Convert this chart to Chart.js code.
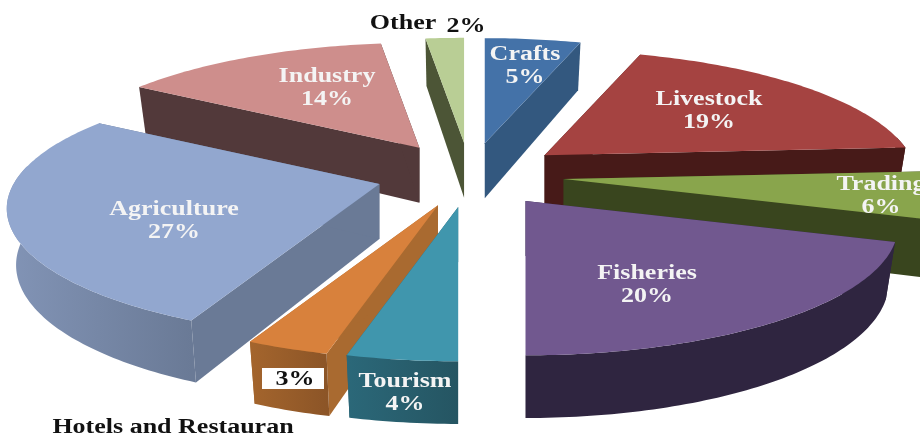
<!DOCTYPE html>
<html>
<head>
<meta charset="utf-8">
<title>Employment by sector</title>
<script src="https://cdn.jsdelivr.net/npm/chart.js@4"></script>
<style>
  html, body { margin: 0; padding: 0; background: #fff; overflow: hidden; }
  canvas { display: block; }
</style>
</head>
<body>
<canvas id="pizza_setores" width="920" height="433"></canvas>
<script>
const categorias = ['Crafts', 'Livestock', 'Trading', 'Fisheries', 'Tourism',
  'Hotels and Restauran', 'Agriculture', 'Industry', 'Other'];
const valores = [5, 19, 6, 20, 4, 3, 27, 14, 2];

const cor_topo = ['#4472a8', '#a54341', '#89a54c', '#71588f', '#4096ad',
  '#d8813c', '#92a7cf', '#ce8e8c', '#b9ce95'];
const cor_corte = ['#33587f', '#471a18', '#39451e', '#2f2540', '#2a6474',
  '#a96a30', '#6a7a96', '#52393a', '#4c5536'];
// outer rim runs from the first colour to the second, left to right
const cor_borda = [
  ['#33587f', '#33587f'], ['#471a18', '#471a18'], ['#39451e', '#39451e'],
  ['#2f2540', '#2f2540'], ['#2b6879', '#255562'], ['#a4652d', '#8c5527'],
  ['#8294b6', '#6a7a96'], ['#52393a', '#52393a'], ['#4c5536', '#4c5536']
];

// where each label sits, centre x and centre y of the first line
const pos_rotulos = [
  [525, 55], [709, 100], [881, 185], [647, 274], [405, 382],
  null, [174, 210], [327, 77], null
];

// tilt of the pie
const ESTICA_X = 2.36;
const ACHATA_Y = 0.806;
const PERSPECTIVA = 0.19;
const ALTURA = 55;
const ENCOLHE_BASE = 0.975;
const ESTICA_TEXTO = 1.3;

function escreve(ctx, texto, x, y, cor, tam) {
  ctx.save();
  ctx.translate(x, y);
  ctx.scale(ESTICA_TEXTO, 1);
  ctx.font = 'bold ' + (tam || 20) + 'px "Liberation Serif"';
  ctx.fillStyle = cor;
  ctx.textAlign = 'center';
  ctx.textBaseline = 'middle';
  ctx.fillText(texto, 0, 0);
  ctx.restore();
}

function caminho(ctx, pontos) {
  ctx.beginPath();
  pontos.forEach(function (p, i) {
    if (i === 0) ctx.moveTo(p[0], p[1]); else ctx.lineTo(p[0], p[1]);
  });
  ctx.closePath();
}

function geometria(arc) {
  const R = arc.outerRadius;
  const rx = R * ESTICA_X;
  const ry = R * ACHATA_Y;
  const meio = (arc.startAngle + arc.endAngle) / 2;
  const ox = arc.x + Math.cos(meio) * arc.options.offset * ESTICA_X;
  const oy = arc.y + Math.sin(meio) * arc.options.offset * ACHATA_Y;
  const aro = function (ang, baixo) {
    const u = Math.cos(ang);
    const v = Math.sin(ang);
    const f = 1 / (1 - PERSPECTIVA * v);
    const desce = baixo ? ALTURA * (1 + 0.14 * v) : 0;
    const encolhe = baixo ? ENCOLHE_BASE : 1;
    return [ox + rx * u * f * encolhe, oy + ry * v * f + desce];
  };
  return { ox: ox, oy: oy, aro: aro };
}

const pizza3d = {
  id: 'pizza3d',
  beforeDatasetDraw(chart, args) {
    const ctx = chart.ctx;
    const arcos = chart.getDatasetMeta(args.index).data;

    // far slices first, so the near ones cover them
    const ordem = arcos.map(function (a, i) { return i; }).sort(function (a, b) {
      const ma = (arcos[a].startAngle + arcos[a].endAngle) / 2;
      const mb = (arcos[b].startAngle + arcos[b].endAngle) / 2;
      return Math.sin(ma) - Math.sin(mb);
    });

    ordem.forEach(function (i) {
      const arc = arcos[i];
      const g = geometria(arc);
      const passos = Math.max(2, Math.ceil((arc.endAngle - arc.startAngle) * 60));
      const angulos = [];
      for (let k = 0; k <= passos; k++) {
        angulos.push(arc.startAngle + (arc.endAngle - arc.startAngle) * k / passos);
      }

      // the two cut faces
      [arc.startAngle, arc.endAngle].forEach(function (ang) {
        const p = g.aro(ang, false);
        const q = g.aro(ang, true);
        caminho(ctx, [[g.ox, g.oy], p, q, [g.ox, g.oy + ALTURA]]);
        ctx.fillStyle = cor_corte[i];
        ctx.fill();
      });

      // outer rim, only the part turned to the viewer
      const frente = angulos.filter(function (a) { return Math.sin(a) > -0.15; });
      if (frente.length > 1) {
        const cima = frente.map(function (a) { return g.aro(a, false); });
        const baixo = frente.map(function (a) { return g.aro(a, true); }).reverse();
        const xs = cima.map(function (p) { return p[0]; });
        const grad = ctx.createLinearGradient(Math.min.apply(null, xs), 0, Math.max.apply(null, xs), 0);
        grad.addColorStop(0, cor_borda[i][0]);
        grad.addColorStop(1, cor_borda[i][1]);
        caminho(ctx, cima.concat(baixo));
        ctx.fillStyle = grad;
        ctx.fill();
      }

      // top face
      caminho(ctx, [[g.ox, g.oy]].concat(angulos.map(function (a) { return g.aro(a, false); })));
      ctx.fillStyle = cor_topo[i];
      ctx.fill();
    });
    return false;
  },
  afterDatasetsDraw(chart) {
    const ctx = chart.ctx;
    valores.forEach(function (v, i) {
      if (!pos_rotulos[i]) return;
      escreve(ctx, categorias[i], pos_rotulos[i][0], pos_rotulos[i][1], '#f4f4f4');
      escreve(ctx, v + '%', pos_rotulos[i][0], pos_rotulos[i][1] + 23, '#f4f4f4');
    });

    // labels that sit outside their slices
    escreve(ctx, categorias[8], 403, 24, '#111');
    escreve(ctx, valores[8] + '%', 466, 27, '#111');
    ctx.fillStyle = '#fff';
    ctx.fillRect(262, 368, 62, 21);
    escreve(ctx, valores[5] + '%', 295, 380, '#111');
    escreve(ctx, categorias[5], 173, 428, '#111');
  }
};

const data_pizza_setores = {
  labels: categorias,
  datasets: [{
    data: valores,
    backgroundColor: cor_topo,
    offset: 40,
    borderWidth: 0
  }]
};

const config_pizza_setores = {
  type: 'pie',
  data: data_pizza_setores,
  options: {
    responsive: false,
    animation: false,
    layout: { padding: { left: 20, bottom: 83 } },
    plugins: { legend: { display: false }, tooltip: { enabled: false } }
  },
  plugins: [pizza3d]
};

const grafico_pizza_setores = new Chart(
  document.getElementById('pizza_setores'),
  config_pizza_setores
);
</script>
</body>
</html>
